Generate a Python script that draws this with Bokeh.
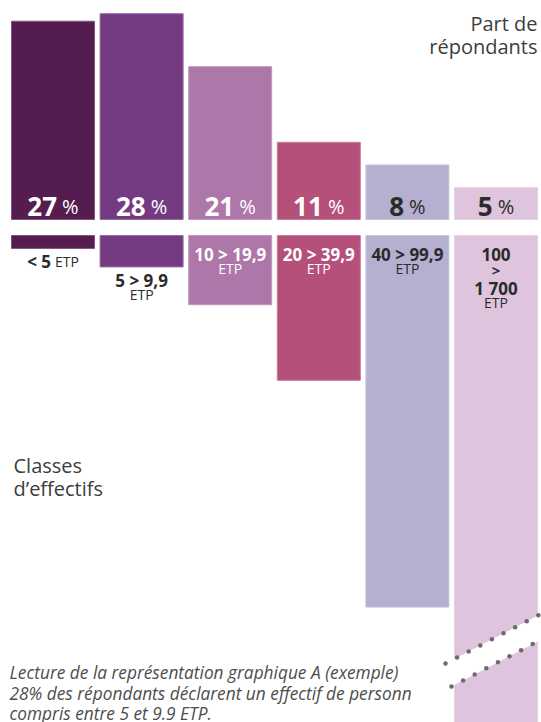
import numpy as np
from bokeh.plotting import figure
from bokeh.models import Range1d
from bokeh.core.properties import value
from bokeh.embed import file_html
from bokeh.resources import INLINE

# ---------------- data ----------------
class_labels = ["< 5", "5 > 9,9", "10 > 19,9", "20 > 39,9", "40 > 99,9", "100 > 1 700"]
class_upper_etp = [5, 9.9, 19.9, 39.9, 99.9, 1700]
share_pct = [27, 28, 21, 11, 8, 5]
bar_colors = ["#541c4f", "#743b82", "#ad77a9", "#b5507b", "#b5b0cf", "#dec4dd"]
pct_text_colors = ["white", "white", "white", "white", "#2b2b2b", "#2b2b2b"]
class_text_colors = ["#2b2b2b", "#2b2b2b", "white", "white", "#2b2b2b", "#2b2b2b"]
title_top = ["Part de", "répondants"]
title_bottom = ["Classes", "d\u2019effectifs"]
note_lines = ["Lecture de la représentation graphique A (exemple)",
              "28% des répondants déclarent un effectif de personnel",
              "compris entre 5 et 9.9 ETP."]

# ---------------- layout (page pixels) ----------------
W, H, M = 541, 722, 0
TOP_ZERO, PX_PER_PCT = 225.0, 7.565
BOT_ZERO, PX_PER_ETP = 229.0, 3.78
GAP_TOP, GAP_BOT = 219.0, 235.0
X0, PITCH, BAR_PX = 52.5, 88.6, 83.0
TEXT_DY = 7.0          # compensation for the text baseline placement
NOTE_CLIP_X = 411      # the note text is cut at this x in the original
FONT = value("Open Sans")
GREY = "#3d3d3d"


def xd(px):
    return (px - X0) / PITCH


def pct_at(py, text=False):
    return (TOP_ZERO - (py - (TEXT_DY if text else 0))) / PX_PER_PCT


def etp_at(py, text=False):
    return ((py - (TEXT_DY if text else 0)) - BOT_ZERO) / PX_PER_ETP


def lighten(hexc, f):
    h = hexc.lstrip("#")
    r, g, b = (int(h[i:i + 2], 16) for i in (0, 2, 4))
    r, g, b = (int(c + (255 - c) * f) for c in (r, g, b))
    return "#%02x%02x%02x" % (r, g, b)


p = figure(width=W, height=H,
           x_range=Range1d(xd(M), xd(M + W)),
           y_range=Range1d(pct_at(M + H), pct_at(M)),
           output_backend="svg", toolbar_location=None,
           x_axis_location=None, y_axis_location=None,
           min_border=0, outline_line_color=None,
           background_fill_color="white", border_fill_color="white")
p.extra_y_ranges = {"etp": Range1d(start=etp_at(M + H), end=etp_at(M))}
p.grid.visible = False

xs = list(range(len(share_pct)))
bw = BAR_PX / PITCH
edges = [lighten(c, 0.25) for c in bar_colors]

# top bars: share of respondents
p.vbar(x=xs, width=bw, bottom=pct_at(GAP_TOP), top=share_pct,
       fill_color=bar_colors, line_color=edges, line_width=1)
# bottom bars: class sizes (ETP)
p.vbar(x=xs, width=bw, top=etp_at(GAP_BOT), bottom=class_upper_etp,
       fill_color=bar_colors, line_color=edges, line_width=1, y_range_name="etp")

# percentage labels
DIG_W, PCT_W, GAP_W = 14.9, 16.6, 5.0
for i, v in enumerate(share_pct):
    s = str(v)
    total = len(s) * DIG_W + GAP_W + PCT_W
    left = -total / 2
    p.text(x=[i], y=[pct_at(213, True)], text=[s], x_offset=left,
           text_font=FONT, text_font_style="bold", text_font_size="26px",
           text_color=pct_text_colors[i], text_align="left", text_baseline="alphabetic")
    p.text(x=[i], y=[pct_at(213, True)], text=["%"], x_offset=left + len(s) * DIG_W + GAP_W,
           text_font=FONT, text_font_size="20px",
           text_color=pct_text_colors[i], text_align="left", text_baseline="alphabetic")

# class labels
MAIN = dict(text_font=FONT, text_font_style="bold", text_font_size="17px",
            text_baseline="alphabetic", y_range_name="etp")
SMALL = dict(text_font=FONT, text_font_size="14px",
             text_baseline="alphabetic", y_range_name="etp")
for i, lab in enumerate(class_labels):
    c = class_text_colors[i]
    if i == 0:
        p.text(x=[i], y=[etp_at(268, True)], text=[lab], x_offset=-2, text_align="right", text_color=c, **MAIN)
        p.text(x=[i], y=[etp_at(268, True)], text=["ETP"], x_offset=2, text_align="left", text_color=c, **SMALL)
    elif i == 1:
        p.text(x=[i], y=[etp_at(287, True)], text=[lab], text_align="center", text_color=c, **MAIN)
        p.text(x=[i], y=[etp_at(301, True)], text=["ETP"], text_align="center", text_color=c, **SMALL)
    elif i == len(class_labels) - 1:
        a, b = lab.split(" > ")
        p.text(x=[i], y=[etp_at(261, True)], text=[a], text_align="center", text_color=c, **MAIN)
        p.text(x=[i], y=[etp_at(276, True)], text=[">"], text_align="center", text_color=c,
               **{**MAIN, "text_font_size": "15px"})
        p.text(x=[i], y=[etp_at(295, True)], text=[b], text_align="center", text_color=c, **MAIN)
        p.text(x=[i], y=[etp_at(309, True)], text=["ETP"], text_align="center", text_color=c, **SMALL)
    else:
        p.text(x=[i], y=[etp_at(261, True)], text=[lab], text_align="center", text_color=c, **MAIN)
        p.text(x=[i], y=[etp_at(275, True)], text=["ETP"], text_align="center", text_color=c, **SMALL)

# axis titles
p.text(x=[xd(537)] * 2, y=[pct_at(30, True), pct_at(53, True)], text=title_top,
       text_font=FONT, text_font_size="20px", text_color=GREY,
       text_align="right", text_baseline="alphabetic")
p.text(x=[xd(13)] * 2, y=[etp_at(472, True), etp_at(495, True)], text=title_bottom,
       text_font=FONT, text_font_size="20px", text_color=GREY,
       text_align="left", text_baseline="alphabetic", y_range_name="etp")

# footnote (cut on the right as in the original)
p.text(x=[xd(9)] * 3, y=[etp_at(679, True), etp_at(700, True), etp_at(720, True)], text=note_lines,
       text_font=FONT, text_font_style="italic", text_font_size="17.3px", text_color="#4d4d4d",
       text_align="left", text_baseline="alphabetic", y_range_name="etp")
p.quad(left=xd(NOTE_CLIP_X), right=xd(452), top=etp_at(640), bottom=etp_at(M + H),
       fill_color="white", line_color=None, y_range_name="etp")

# axis break on the last bar
up = [(445, 663), (541, 613)]
lo = [(451, 686), (541, 639)]
p.patch(x=[xd(up[0][0]), xd(up[1][0]), xd(lo[1][0]), xd(lo[0][0])],
        y=[etp_at(up[0][1]), etp_at(up[1][1]), etp_at(lo[1][1]), etp_at(lo[0][1])],
        fill_color="white", line_color=None, y_range_name="etp")
for (x1, y1), (x2, y2), n in ((up[0], up[1], 9), (lo[0], lo[1], 8)):
    slope = (y2 - y1) / (x2 - x1)
    dx = np.arange(n) * 11.6
    p.scatter(x=[xd(x1 + d) for d in dx], y=[etp_at(y1 + slope * d) for d in dx],
              size=4.5, color="#6b6b6b", line_color=None, y_range_name="etp")

open("out.html", "w", encoding="utf-8").write(file_html(p, INLINE))
